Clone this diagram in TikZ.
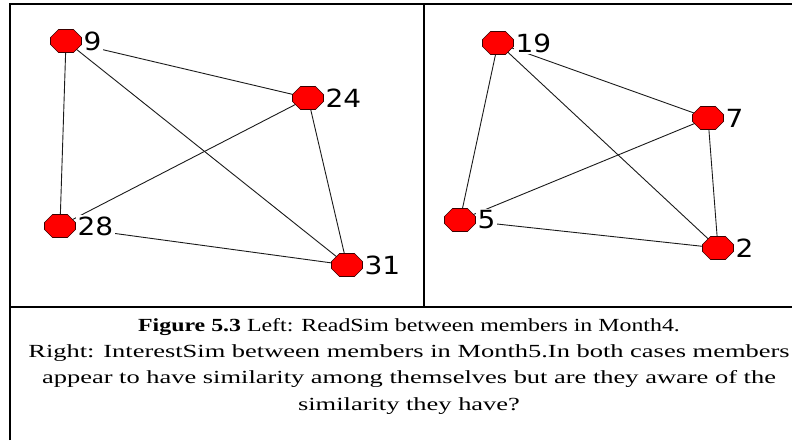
\documentclass[tikz,border=0pt]{standalone}
\usepackage{fontspec}
\setmainfont{Liberation Serif}
\newfontfamily\numfont{DejaVu Sans}
\usepackage{graphicx}
\usepackage{xcolor}
\usepackage{tikz}
\usetikzlibrary{positioning,shapes.misc,backgrounds}
\definecolor{memberred}{HTML}{FF0000}
\definecolor{memberedge}{HTML}{3A0000}
\definecolor{linkgray}{HTML}{1A1A1A}
\newcommand{\widen}[2]{\scalebox{#1}[1]{#2}}
\tikzset{
  member/.style={chamfered rectangle,chamfered rectangle xsep=4pt,chamfered rectangle ysep=4pt,draw=memberedge,fill=memberred,line width=0.6pt,inner xsep=11.5pt,inner ysep=7.5pt},
  numtag/.style={fill=white,inner sep=1.5pt,font=\numfont\fontsize{25}{25}\selectfont},
  link/.style={draw=linkgray,line width=0.9pt},
  frame/.style={line width=2pt,draw=black}
}

\begin{document}
\begin{tikzpicture}[x=1pt,y=-1pt]
\useasboundingbox (0,0) rectangle (792,440);
% frame of the figure
\draw[frame] (10,440) -- (10,4) -- (792,4);
\draw[frame] (424,4) -- (424,307);
\draw[frame] (10,307) -- (792,307);
% left: ReadSim, Month4
\node[member] (n9) at (66,41) {};
\node[member] (n24) at (308,98) {};
\node[member] (n28) at (60,226) {};
\node[member] (n31) at (347,265) {};
\node[numtag,right=0pt of n9] (t9) {\widen{1.12}{9}};
\node[numtag,right=0pt of n24] (t24) {\widen{1.12}{24}};
\node[numtag,right=0pt of n28] (t28) {\widen{1.12}{28}};
\node[numtag,right=0pt of n31] (t31) {\widen{1.12}{31}};
% right: InterestSim, Month5
\node[member] (n19) at (498,43) {};
\node[member] (n7) at (708,118) {};
\node[member] (n5) at (460,220) {};
\node[member] (n2) at (718,248) {};
\node[numtag,right=0pt of n19] (t19) {\widen{1.12}{19}};
\node[numtag,right=0pt of n7] (t7) {\widen{1.12}{7}};
\node[numtag,right=0pt of n5] (t5) {\widen{1.12}{5}};
\node[numtag,right=0pt of n2] (t2) {\widen{1.12}{2}};
\begin{scope}[on background layer]
\draw[link] (n9.center) -- (n28.center);
\draw[link] (n9.center) -- (n24.center);
\draw[link] (n9.center) -- (n31.center);
\draw[link] (n24.center) -- (n28.center);
\draw[link] (n24.center) -- (n31.center);
\draw[link] (n28.center) -- (n31.center);
\draw[link] (n19.center) -- (n5.center);
\draw[link] (n19.center) -- (n7.center);
\draw[link] (n19.center) -- (n2.center);
\draw[link] (n7.center) -- (n5.center);
\draw[link] (n7.center) -- (n2.center);
\draw[link] (n5.center) -- (n2.center);
\end{scope}
% caption
\node[anchor=north,align=center,inner sep=0pt,font=\fontsize{18.5}{26.3}\selectfont] (cap) at (409,318)
  {\widen{1.29}{\textbf{Figure 5.3} Left: ReadSim between members in Month4.}\\
   \widen{1.43}{Right: InterestSim between members in Month5.In both cases members}\\
   \widen{1.43}{appear to have similarity among themselves but are they aware of the}\\
   \widen{1.43}{similarity they have?}};
\end{tikzpicture}
\end{document}
